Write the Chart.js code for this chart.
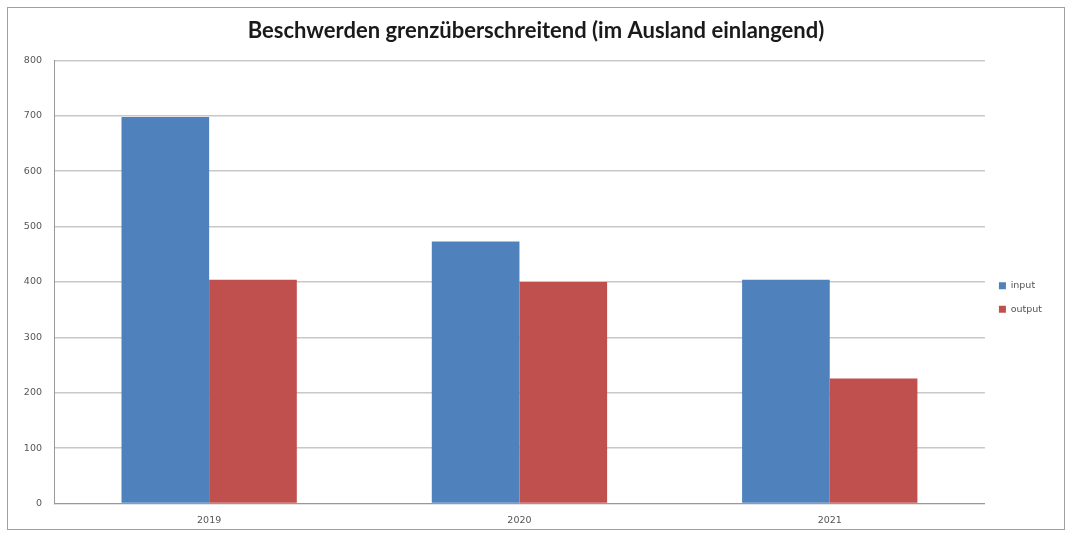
<!DOCTYPE html>
<html>
<head>
<meta charset="utf-8">
<script src="https://cdn.jsdelivr.net/npm/chart.js@4"></script>
<style>
  body { margin: 0; background: #fff; }
  #box { position: absolute; left: 7px; top: 7px; width: 1056px; height: 521px; border: 1px solid #a0a0a0; }
  canvas { display: block; }
</style>
</head>
<body>
<div id="box"><canvas id="chart" width="1056" height="521"></canvas></div>
<script>
const years = ["2019", "2020", "2021"];
const inputValues = [698, 473, 404];
const outputValues = [404, 400, 226];
const yTicks = [0, 100, 200, 300, 400, 500, 600, 700, 800];

const smallFont = { family: "DejaVu Sans", size: 9.5 };

const ctx = document.getElementById("chart").getContext("2d");
const chart = new Chart(ctx, {
  type: "bar",
  data: {
    labels: years,
    datasets: [
      { label: "input", data: inputValues, backgroundColor: "#4f81bd" },
      { label: "output", data: outputValues, backgroundColor: "#c0504d" }
    ]
  },
  options: {
    responsive: false,
    animation: false,
    layout: { padding: { left: 12, right: 12, top: 0, bottom: 0 } },
    datasets: {
      bar: { categoryPercentage: 0.565, barPercentage: 1 }
    },
    plugins: {
      title: {
        display: true,
        text: "Beschwerden grenzüberschreitend (im Ausland einlangend)",
        font: { family: "Lato", size: 22, weight: "bold" },
        color: "#1a1a1a",
        padding: { top: 10, bottom: 16 }
      },
      legend: {
        position: "right",
        title: { display: true, text: "", padding: 23, font: { size: 10 } },
        labels: {
          boxWidth: 7,
          boxHeight: 7,
          padding: 14,
          font: smallFont,
          color: "#555"
        }
      },
      tooltip: { enabled: false }
    },
    scales: {
      x: {
        grid: { display: false },
        border: { color: "#999" },
        ticks: { font: smallFont, color: "#555" }
      },
      y: {
        min: 0,
        max: 800,
        afterBuildTicks: scale => { scale.ticks = yTicks.map(v => ({ value: v })); },
        afterFit: scale => { scale.width = 34; },
        grid: { color: "#c8c8c8", lineWidth: 1.5, drawTicks: false },
        border: { color: "#999" },
        ticks: { font: smallFont, color: "#555", padding: 12 }
      }
    }
  }
});
</script>
</body>
</html>
